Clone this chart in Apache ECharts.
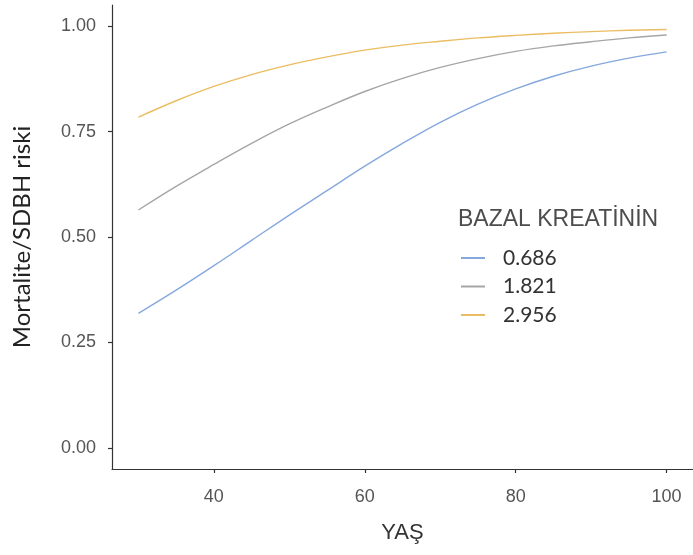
<!DOCTYPE html>
<html>
<head>
<meta charset="utf-8">
<script src="https://cdn.jsdelivr.net/npm/echarts@6/dist/echarts.min.js"></script>
<style>
html,body{margin:0;padding:0;background:#fff;}
#c{width:693px;height:555px;}
</style>
</head>
<body>
<div id="c"></div>
<script>
var ages = [30, 35, 40, 45, 50, 55, 60, 65, 70, 75, 80, 85, 90, 95, 100];
var risk0686 = [0.319, 0.374, 0.432, 0.492, 0.552, 0.610, 0.668, 0.722, 0.772, 0.815, 0.851, 0.881, 0.905, 0.924, 0.939];
var risk1821 = [0.564, 0.620, 0.672, 0.722, 0.768, 0.808, 0.845, 0.876, 0.902, 0.923, 0.940, 0.953, 0.963, 0.972, 0.979];
var risk2956 = [0.784, 0.823, 0.857, 0.885, 0.908, 0.927, 0.943, 0.955, 0.964, 0.972, 0.978, 0.983, 0.987, 0.990, 0.992];
var seriesNames = ['0.686', '1.821', '2.956'];
var xTicks = [40, 60, 80, 100];
var yTicks = [0, 0.25, 0.5, 0.75, 1];
var legendTitle = 'BAZAL KREATİNİN';
var xTitle = 'YAŞ';
var yTitle = 'Mortalite/SDBH riski';
var colors = ['#86a8de', '#a6a6a6', '#ebbd62'];

function pairs(vals) { return ages.map(function (a, i) { return [a, vals[i]]; }); }
var allVals = [risk0686, risk1821, risk2956];

var chart = echarts.init(document.getElementById('c'), null, {renderer: 'canvas'});
chart.setOption({
  backgroundColor: '#ffffff',
  animation: false,
  color: colors,
  title: {
    text: legendTitle,
    left: 458, top: 208, padding: 0,
    textStyle: {fontFamily: 'Liberation Sans', fontSize: 23, fontWeight: 'normal', color: '#4d4d4d'}
  },
  legend: {
    orient: 'vertical',
    left: 461, top: 244, padding: 0,
    itemWidth: 24, itemHeight: 2, itemGap: 0.5,
    icon: 'rect',
    data: seriesNames,
    textStyle: {fontFamily: 'Lato', fontSize: 21, color: '#333', lineHeight: 22, padding: [0, 0, 6, 13]}
  },
  grid: {left: 112, top: 5, width: 582.5, height: 464, containLabel: false},
  xAxis: {
    type: 'value', min: 26.5, max: 103.5,
    name: xTitle, nameLocation: 'middle', nameGap: 53,
    nameTextStyle: {fontFamily: 'Liberation Sans', fontSize: 22, color: '#333'},
    axisLine: {show: true, onZero: false, lineStyle: {color: '#333', width: 1.2}},
    axisTick: {show: true, length: 4, customValues: xTicks, lineStyle: {color: '#333', width: 1.2}},
    axisLabel: {customValues: xTicks, margin: 19, fontFamily: 'Liberation Sans', fontSize: 18, color: '#555'},
    splitLine: {show: false}
  },
  yAxis: {
    type: 'value', min: -0.05, max: 1.05,
    name: yTitle, nameLocation: 'middle', nameRotate: 90, nameGap: 78,
    nameTextStyle: {fontFamily: 'Lato', fontSize: 24, color: '#222'},
    axisLine: {show: true, onZero: false, lineStyle: {color: '#333', width: 1.2}},
    axisTick: {show: true, length: 4, customValues: yTicks, lineStyle: {color: '#333', width: 1.2}},
    axisLabel: {customValues: yTicks, margin: 16, fontFamily: 'Liberation Sans', fontSize: 18, color: '#555',
      formatter: function (v) { return v.toFixed(2); }},
    splitLine: {show: false}
  },
  series: seriesNames.map(function (n, i) {
    return {
      name: n, type: 'line', smooth: 0.4, showSymbol: false,
      data: pairs(allVals[i]),
      lineStyle: {width: 1.4, color: colors[i]},
      itemStyle: {color: colors[i]}
    };
  })
});
</script>
</body>
</html>
